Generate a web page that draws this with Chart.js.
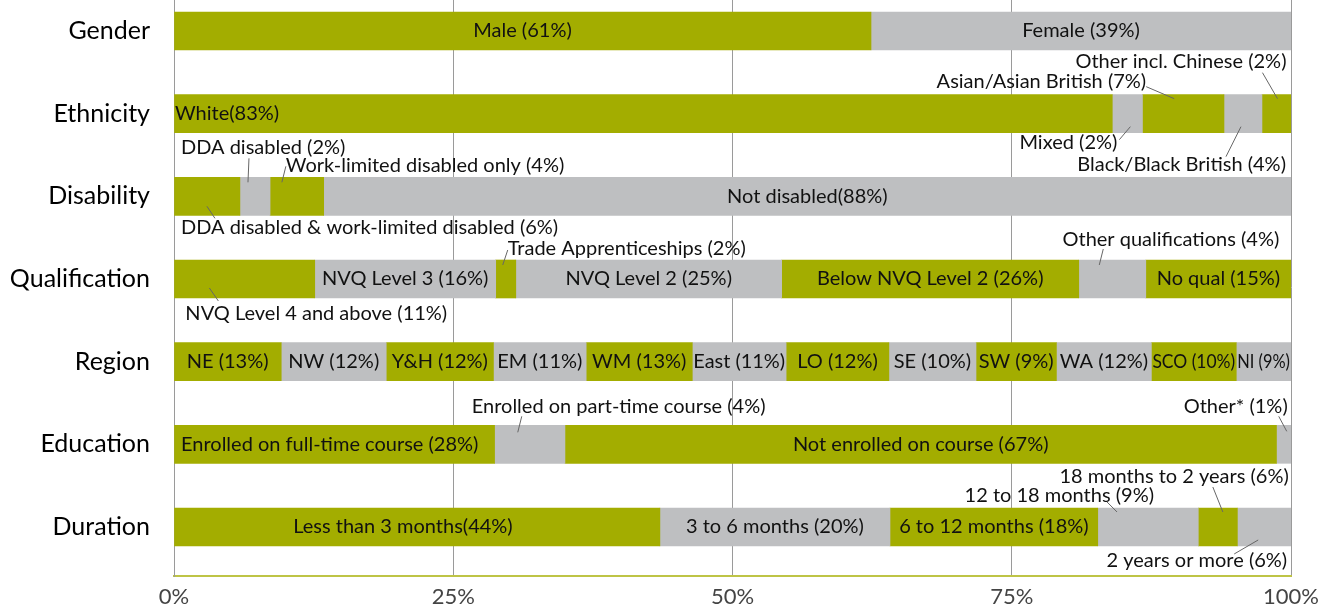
<!DOCTYPE html>
<html>
<head>
<meta charset="utf-8">
<script src="https://cdn.jsdelivr.net/npm/chart.js@4"></script>
<style>
  body { margin: 0; background: #fff; }
  canvas { display: block; }
</style>
</head>
<body>
<canvas id="perfil" width="1329" height="610"></canvas>
<script>
const categories = ['Gender', 'Ethnicity', 'Disability', 'Qualification', 'Region', 'Education', 'Duration'];
const xTicks = ['0%', '25%', '50%', '75%', '100%'];

const genderValues = [62.4, 37.6];
const genderLabels = ['Male (61%)', 'Female (39%)'];

const ethnicityValues = [84.0, 2.7, 7.3, 3.4, 2.6];
const ethnicityLabels = ['White(83%)', 'Mixed (2%)', 'Asian/Asian British (7%)', 'Black/Black British (4%)', 'Other incl. Chinese (2%)'];

const disabilityValues = [5.9, 2.7, 4.8, 86.6];
const disabilityLabels = ['DDA disabled & work-limited disabled (6%)', 'DDA disabled (2%)', 'Work-limited disabled only (4%)', 'Not disabled(88%)'];

const qualificationValues = [12.6, 16.2, 1.8, 23.8, 26.6, 6.0, 13.0];
const qualificationLabels = ['NVQ Level 4 and above (11%)', 'NVQ Level 3 (16%)', 'Trade Apprenticeships (2%)', 'NVQ Level 2 (25%)', 'Below NVQ Level 2 (26%)', 'Other qualifications (4%)', 'No qual (15%)'];

const regionValues = [9.6, 9.4, 9.6, 8.3, 9.5, 8.4, 9.2, 7.8, 7.2, 8.5, 7.6, 4.9];
const regionLabels = ['NE (13%)', 'NW (12%)', 'Y&H (12%)', 'EM (11%)', 'WM (13%)', 'East (11%)', 'LO (12%)', 'SE (10%)', 'SW (9%)', 'WA (12%)', 'SCO (10%)', 'NI (9%)'];

const educationValues = [28.7, 6.3, 63.7, 1.3];
const educationLabels = ['Enrolled on full-time course (28%)', 'Enrolled on part-time course (4%)', 'Not enrolled on course (67%)', 'Other* (1%)'];

const durationValues = [43.5, 20.6, 18.6, 9.0, 3.5, 4.8];
const durationLabels = ['Less than 3 months(44%)', '3 to 6 months (20%)', '6 to 12 months (18%)', '12 to 18 months (9%)', '18 months to 2 years (6%)', '2 years or more (6%)'];

const rows = [genderValues, ethnicityValues, disabilityValues, qualificationValues, regionValues, educationValues, durationValues];
const rowLabels = [genderLabels, ethnicityLabels, disabilityLabels, qualificationLabels, regionLabels, educationLabels, durationLabels];

const verde = 'rgb(163, 173, 0)';
const gris = 'rgb(190, 191, 193)';

// etiquetas fuera de la barra: offsets en px desde el centro del segmento
const callouts = [
  { row: 1, seg: 4, align: 'right', dx: 10, dy: -52, line: [-14, -41, 1, -15] },
  { row: 1, seg: 2, align: 'right', dx: -37, dy: -32, line: [-37, -27, -9, -15] },
  { row: 1, seg: 1, align: 'right', dx: -10, dy: 29, line: [-8, 26, 3, 13] },
  { row: 1, seg: 3, align: 'right', dx: 43, dy: 51, line: [-17, 43, -2, 13] },
  { row: 2, seg: 0, align: 'left', dx: -26, dy: 31, line: [0, 10, 8, 22] },
  { row: 2, seg: 1, align: 'left', dx: -74, dy: -49, line: [-6, -38, -7, -14] },
  { row: 2, seg: 2, align: 'left', dx: -11, dy: -31, line: [-11, -30, -15, -14] },
  { row: 3, seg: 0, align: 'left', dx: -59, dy: 35, line: [-35, 9, -26, 22] },
  { row: 3, seg: 2, align: 'left', dx: 2, dy: -30, line: [-3, -14, 2, -29] },
  { row: 3, seg: 5, align: 'right', dx: 167, dy: -39, line: [-9, -30, -13, -14] },
  { row: 5, seg: 1, align: 'left', dx: -58, dy: -38, line: [-8, -28, -12, -12] },
  { row: 5, seg: 3, align: 'right', dx: 4, dy: -38, line: [-5, -28, 3, -13] },
  { row: 6, seg: 3, align: 'right', dx: 6, dy: -31, line: [-41, -25, -31, -15] },
  { row: 6, seg: 4, align: 'right', dx: 71, dy: -50, line: [-5, -40, 5, -15] },
  { row: 6, seg: 5, align: 'right', dx: 23, dy: 34, line: [-6, 13, -30, 27] }
];

// ajustes de etiquetas dentro de la barra
const ajustes = [
  { row: 1, seg: 0, align: 'left', dx: 1 },
  { row: 5, seg: 0, align: 'left', dx: 7 },
  { row: 6, seg: 0, align: 'center', dx: -14 }
];

const maxSegs = Math.max(...rows.map(r => r.length));
const datasets = [];
for (let k = 0; k < maxSegs; k++) {
  const pts = [];
  rows.forEach((vals, i) => {
    if (k < vals.length) pts.push({ x: vals[k], y: i });
  });
  datasets.push({
    data: pts,
    backgroundColor: k % 2 === 0 ? verde : gris,
    borderWidth: 0,
    barThickness: 38
  });
}

const segmentLabels = {
  id: 'segmentLabels',
  afterDatasetsDraw(chart) {
    const { ctx, scales: { x, y } } = chart;
    ctx.save();
    ctx.font = '20px Lato';
    ctx.fillStyle = '#111';
    ctx.strokeStyle = '#666';
    ctx.lineWidth = 1;
    ctx.textBaseline = 'middle';
    rows.forEach((vals, r) => {
      let cum = 0;
      const cy = y.getPixelForValue(r);
      vals.forEach((v, s) => {
        const x0 = x.getPixelForValue(cum);
        const x1 = x.getPixelForValue(cum + v);
        cum += v;
        const cx = (x0 + x1) / 2;
        const text = rowLabels[r][s];
        const c = callouts.find(o => o.row === r && o.seg === s);
        if (c) {
          ctx.textAlign = c.align;
          ctx.fillText(text, cx + c.dx, cy + c.dy);
          ctx.beginPath();
          ctx.moveTo(cx + c.line[0], cy + c.line[1]);
          ctx.lineTo(cx + c.line[2], cy + c.line[3]);
          ctx.stroke();
          return;
        }
        const t = ajustes.find(o => o.row === r && o.seg === s);
        if (t && t.align === 'left') {
          ctx.textAlign = 'left';
          ctx.fillText(text, x0 + t.dx, cy);
        } else {
          ctx.textAlign = 'center';
          ctx.fillText(text, cx + (t ? t.dx : 0), cy, x1 - x0 - 2);
        }
      });
    });
    ctx.restore();
  }
};

const ctx = document.getElementById('perfil').getContext('2d');

const config = {
  type: 'bar',
  data: { datasets: datasets },
  options: {
    indexAxis: 'y',
    responsive: false,
    animation: false,
    layout: { padding: { left: 0, right: 38, top: 0, bottom: 0 } },
    plugins: {
      legend: { display: false },
      tooltip: { enabled: false }
    },
    scales: {
      x: {
        type: 'linear',
        stacked: true,
        min: 0,
        max: 100,
        ticks: {
          stepSize: 25,
          padding: 8,
          color: '#444',
          font: { family: 'Lato', size: 22 },
          callback: (v, i) => xTicks[i]
        },
        grid: { color: '#9a9a9a', lineWidth: 1, drawTicks: false },
        border: { color: 'rgb(190, 196, 70)', width: 2 },
        afterFit: (scale) => { scale.height = 34; }
      },
      y: {
        type: 'linear',
        stacked: true,
        reverse: true,
        offset: false,
        min: -0.375,
        max: 6.593,
        afterBuildTicks: (scale) => {
          scale.ticks = categories.map((c, i) => ({ value: i }));
        },
        ticks: {
          padding: 24,
          color: '#000',
          font: { family: 'Lato', size: 25 },
          callback: (v) => categories[v]
        },
        grid: { display: false, drawTicks: false, offset: false },
        border: { color: '#9a9a9a', width: 1 },
        afterFit: (scale) => {
          scale.width = 174;
          scale.paddingTop = 0;
          scale.paddingBottom = 0;
        }
      }
    }
  },
  plugins: [segmentLabels]
};

const grafica = new Chart(ctx, config);
</script>
</body>
</html>
